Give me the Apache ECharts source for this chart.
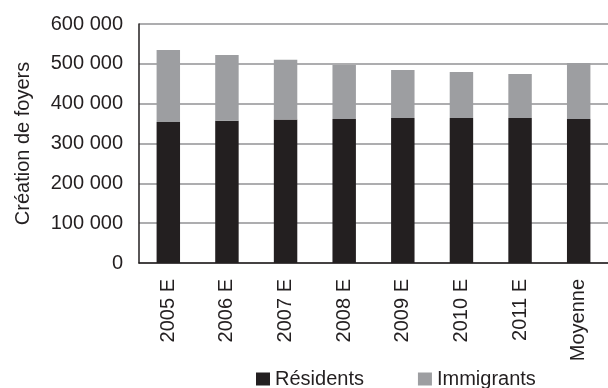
<!DOCTYPE html>
<html>
<head>
<meta charset="utf-8">
<script src="https://cdn.jsdelivr.net/npm/echarts@6/dist/echarts.min.js"></script>
<style>
html,body{margin:0;padding:0;background:#fff;}
#chart{width:608px;height:388px;}
</style>
</head>
<body>
<div id="chart"></div>
<script>
const categories = ['2005 E','2006 E','2007 E','2008 E','2009 E','2010 E','2011 E','Moyenne'];
const residents = [354000, 357000, 360000, 361500, 364000, 364000, 364000, 361500];
const immigrants = [181000, 165000, 150000, 135500, 120500, 115500, 110500, 140500];
const seriesNames = ['Résidents', 'Immigrants'];
const yAxisTitle = 'Création de foyers';

const FONT = 'Liberation Sans, Arial, Helvetica, sans-serif';
const chart = echarts.init(document.getElementById('chart'), null, {renderer:'canvas'});
chart.setOption({
  animation: false,
  backgroundColor: '#fff',
  textStyle: {fontFamily: FONT},
  grid: {left: 139, top: 24, width: 476, bottom: 125, containLabel: false},
  legend: {
    data: seriesNames,
    left: 251, top: 364,
    itemWidth: 14, itemHeight: 13, itemGap: 54,
    icon: 'rect',
    textStyle: {fontSize: 20, color: '#231f20', fontFamily: FONT}
  },
  xAxis: {
    type: 'category',
    data: categories,
    axisLine: {lineStyle: {color: '#231f20', width: 1.5}},
    axisTick: {show: false},
    axisLabel: {rotate: 90, margin: 16, fontSize: 20, color: '#231f20', fontFamily: FONT, interval: 0}
  },
  yAxis: {
    type: 'value',
    min: 0, max: 600000, interval: 100000,
    name: yAxisTitle,
    nameLocation: 'middle',
    nameGap: 106,
    nameTextStyle: {fontSize: 20, color: '#231f20', fontFamily: FONT},
    axisLine: {show: true, lineStyle: {color: '#231f20', width: 1.5}},
    axisTick: {show: false},
    axisLabel: {
      margin: 16, fontSize: 20, color: '#231f20', fontFamily: FONT,
      formatter: v => v === 0 ? '0' : String(v).replace(/\B(?=(\d{3})+(?!\d))/g, ' ')
    },
    splitLine: {lineStyle: {color: '#adadaf', width: 2}}
  },
  series: [
    {name: seriesNames[0], type: 'bar', stack: 'total', data: residents, barWidth: '40%', itemStyle: {color: '#231f20'}},
    {name: seriesNames[1], type: 'bar', stack: 'total', data: immigrants, barWidth: '40%', itemStyle: {color: '#9d9ea1'}}
  ]
});
</script>
</body>
</html>
